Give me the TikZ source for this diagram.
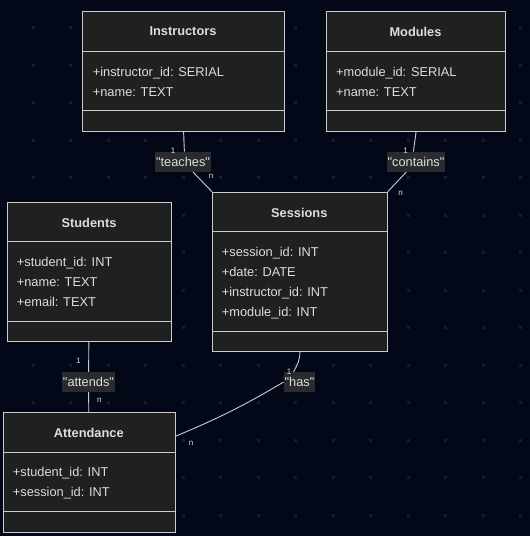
\documentclass[tikz,border=0pt]{standalone}
\usepackage{fontspec}
\setmainfont{Liberation Sans}
\definecolor{bg}{HTML}{020817}
\definecolor{dotc}{HTML}{171D29}
\definecolor{boxfill}{HTML}{1F2020}
\definecolor{boxline}{HTML}{CCCCCC}
\definecolor{txt}{HTML}{DDDDDD}
\definecolor{lblfill}{HTML}{2A2B2C}
\begin{document}
\begin{tikzpicture}[x=1pt, y=-1pt,
	ent/.style={draw=boxline, fill=boxfill, line width=1pt, anchor=north west, inner sep=0pt},
	sep/.style={draw=boxline, line width=1pt},
	ttl/.style={inner sep=0pt, text=txt, font=\fontsize{12.8}{15}\selectfont\bfseries},
	attr/.style={anchor=west, inner sep=0pt, text=txt, text height=9pt, text depth=3pt, font=\fontsize{12.8}{15}\selectfont},
	elabel/.style={fill=lblfill, text=txt, inner xsep=0.8pt, inner ysep=0pt, minimum height=20pt, font=\fontsize{12.8}{15}\selectfont},
	card/.style={inner sep=0pt, text=txt, font=\fontsize{8}{9}\selectfont},
	rel/.style={draw=boxline, line width=0.9pt}]
	\fill[bg] (0,0) rectangle (530,536);
	\foreach \i in {0,...,13}
		\foreach \j in {0,...,13}
			\fill[dotc] (31.5+37.5*\i, 26+37.5*\j) rectangle ++(3,3);
	% Instructors
	\node[ent, minimum width=202.6pt, minimum height=119.7pt] (0) at (81.7,11) {};
	\draw[sep] (81.7,51.7) -- (284.3,51.7);
	\draw[sep] (81.7,110.7) -- (284.3,110.7);
	\node[ttl] (10) at (183,31.5) {Instructors};
	\node[attr] (11) at (92.7,73.3) {+instructor\_id: SERIAL};
	\node[attr] (12) at (92.7,93.3) {+name: TEXT};
	% Modules
	\node[ent, minimum width=179.6pt, minimum height=119.7pt] (1) at (325.7,11) {};
	\draw[sep] (325.7,51.7) -- (505.3,51.7);
	\draw[sep] (325.7,110.7) -- (505.3,110.7);
	\node[ttl] (13) at (415.5,31.5) {Modules};
	\node[attr] (14) at (336,73.3) {+module\_id: SERIAL};
	\node[attr] (15) at (336,93.3) {+name: TEXT};
	% Sessions
	\node[ent, minimum width=174.7pt, minimum height=159.3pt] (2) at (212,191.7) {};
	\draw[sep] (212,231.7) -- (386.7,231.7);
	\draw[sep] (212,331.7) -- (386.7,331.7);
	\node[ttl] (16) at (299.3,212.8) {Sessions};
	\node[attr] (17) at (221.7,253) {+session\_id: INT};
	\node[attr] (18) at (221.7,273) {+date: DATE};
	\node[attr] (19) at (221.7,293) {+instructor\_id: INT};
	\node[attr] (20) at (221.7,313) {+module\_id: INT};
	% Students
	\node[ent, minimum width=164pt, minimum height=139pt] (3) at (7,202) {};
	\draw[sep] (7,241.7) -- (171,241.7);
	\draw[sep] (7,321) -- (171,321);
	\node[ttl] (21) at (89,222.8) {Students};
	\node[attr] (22) at (16.7,263) {+student\_id: INT};
	\node[attr] (23) at (16.7,283) {+name: TEXT};
	\node[attr] (24) at (16.7,303) {+email: TEXT};
	% Attendance
	\node[ent, minimum width=172.3pt, minimum height=120pt] (4) at (2.7,412.3) {};
	\draw[sep] (2.7,452.3) -- (175,452.3);
	\draw[sep] (2.7,511.7) -- (175,511.7);
	\node[ttl] (25) at (88.8,432.8) {Attendance};
	\node[attr] (26) at (12.7,473.6) {+student\_id: INT};
	\node[attr] (27) at (12.7,493.6) {+session\_id: INT};
	% relations
	\node[elabel] (5) at (183,161.7) {\textquotedbl teaches\textquotedbl};
	\node[elabel] (6) at (416,161.7) {\textquotedbl contains\textquotedbl};
	\node[elabel] (7) at (88.5,382) {\textquotedbl attends\textquotedbl};
	\node[elabel] (8) at (299.5,382) {\textquotedbl has\textquotedbl};
	\draw[rel] (0.south) to[out=-85,in=95] ([xshift=1.5pt]5.north);
	\draw[rel] (5) -- (2.north west);
	\draw[rel] (1.south) to[out=-95,in=85] ([xshift=-2.5pt]6.north);
	\draw[rel] (6) -- (2.north east);
	\draw[rel] (3) -- (7);
	\draw[rel] (7) -- (4);
	\draw[rel] (2.south) to[out=-90,in=60] ([xshift=-6pt]8.north);
	\draw[rel] (8.west) to[bend left=4] (4.23);
	\node[card] (30) at (173,151) {1};
	\node[card] (31) at (211,176) {n};
	\node[card] (32) at (405.7,150.7) {1};
	\node[card] (33) at (400.7,193.3) {n};
	\node[card] (34) at (78.3,361) {1};
	\node[card] (35) at (99.3,400.3) {n};
	\node[card] (36) at (289,371.7) {1};
	\node[card] (37) at (191,443.3) {n};
\end{tikzpicture}
\end{document}
